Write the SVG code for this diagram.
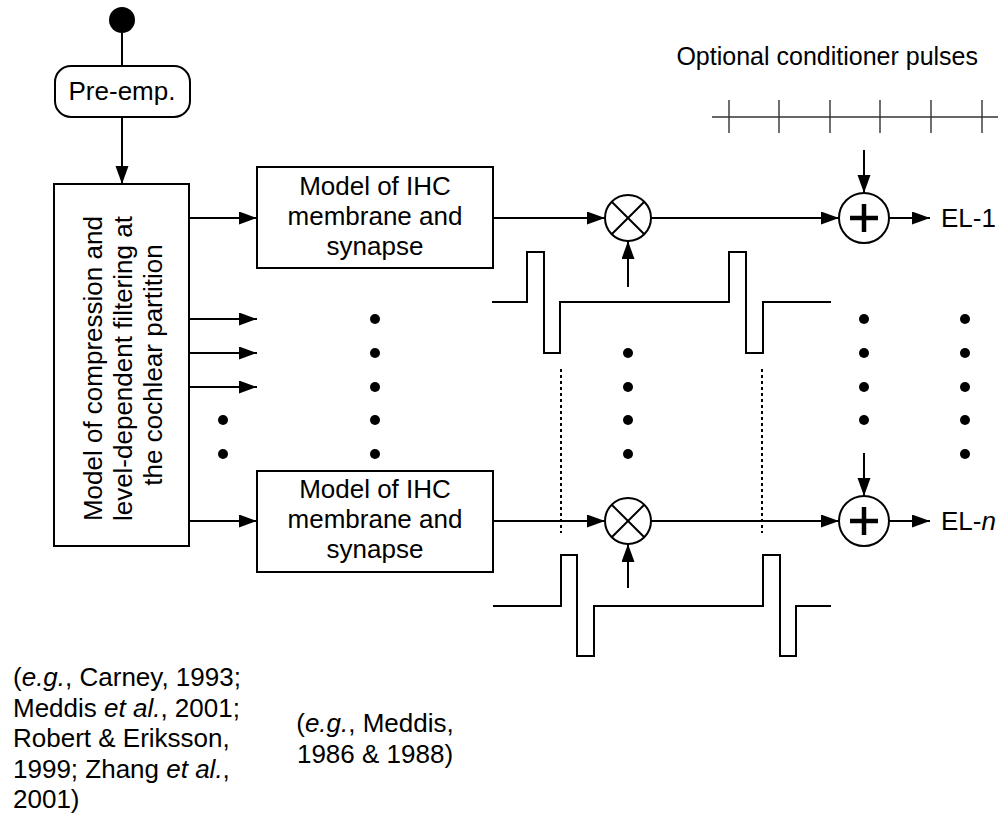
<svg xmlns="http://www.w3.org/2000/svg" width="998" height="816" viewBox="0 0 998 816">
<style>
text{font-family:"Liberation Sans",Arial,sans-serif;font-size:26px;fill:#000}
.box{fill:#fff;stroke:#000;stroke-width:2}
.ln{fill:none;stroke:#000;stroke-width:2}
.ar{fill:none;stroke:#000;stroke-width:2;marker-end:url(#ah)}
.dot{fill:#000}
.dash{fill:none;stroke:#000;stroke-width:2;stroke-dasharray:3 3}
.plus{stroke:#000;stroke-width:4.5}
.tick{stroke:#333;stroke-width:1.4}
</style>
<defs>
<marker id="ah" markerUnits="userSpaceOnUse" markerWidth="20" markerHeight="14" refX="18" refY="6.5" orient="auto">
<path d="M0,0 L18,6.5 L0,13 z" fill="#000"/>
</marker>
</defs>
<rect width="998" height="816" fill="#fff"/>

<g id="start"><circle cx="122" cy="20" r="13" fill="#000"/></g>

<g id="preemp">
<rect class="box" x="55" y="66" width="135" height="51" rx="16"/>
<text x="122" y="100" text-anchor="middle">Pre-emp.</text>
</g>

<g id="cochlea">
<rect class="box" x="54" y="184" width="135" height="362"/>
<text transform="translate(102,365) rotate(-90)" text-anchor="middle">
<tspan x="0" y="0">Model of compression and</tspan>
<tspan x="0" dy="30">level-dependent filtering at</tspan>
<tspan x="0" dy="30">the cochlear partition</tspan>
</text>
</g>

<g id="ihc1">
<rect class="box" x="257" y="167" width="236" height="101"/>
<text text-anchor="middle"><tspan x="375" y="195">Model of IHC</tspan><tspan x="375" y="225">membrane and</tspan><tspan x="375" y="255">synapse</tspan></text>
</g>

<g id="ihc2">
<rect class="box" x="257" y="471" width="236" height="101"/>
<text text-anchor="middle"><tspan x="375" y="498">Model of IHC</tspan><tspan x="375" y="528">membrane and</tspan><tspan x="375" y="558">synapse</tspan></text>
</g>

<g id="mult1">
<circle class="box" cx="628" cy="218" r="23"/>
<path class="ln" d="M611.7,201.7 L644.3,234.3 M644.3,201.7 L611.7,234.3"/>
</g>
<g id="mult2">
<circle class="box" cx="628" cy="521" r="23"/>
<path class="ln" d="M611.7,504.7 L644.3,537.3 M644.3,504.7 L611.7,537.3"/>
</g>

<g id="add1">
<circle class="box" cx="864" cy="218" r="25"/>
<path class="plus" d="M850,218 H878 M864,204 V232"/>
</g>
<g id="add2">
<circle class="box" cx="864" cy="521" r="25"/>
<path class="plus" d="M850,521 H878 M864,507 V535"/>
</g>

<g id="out1"><text x="941" y="227">EL-1</text></g>
<g id="outn"><text x="941" y="530">EL-<tspan font-style="italic">n</tspan></text></g>

<g id="conditioner">
<text x="978" y="65" text-anchor="end" style="font-size:25px">Optional conditioner pulses</text>
<line x1="712" y1="117" x2="998" y2="117" stroke="#333" stroke-width="1.4"/>
<path class="tick" d="M729,100 V133 M779,100 V133 M830,100 V133 M880,100 V133 M931,100 V133 M982,100 V133"/>
</g>

<g id="pulses1"><path class="ln" d="M492,302 H527 V252 H544 V353 H560 V302 H729 V252 H746 V353 H763 V302 H831"/></g>
<g id="pulses2"><path class="ln" d="M493,606 H561 V555 H577 V656 H594 V606 H763 V555 H780 V656 H796 V606 H831"/></g>

<g id="ellipsis">
<circle class="dot" cx="223" cy="420" r="5"/><circle class="dot" cx="223" cy="454" r="5"/>
<circle class="dot" cx="375" cy="319" r="5"/><circle class="dot" cx="375" cy="353" r="5"/><circle class="dot" cx="375" cy="387" r="5"/><circle class="dot" cx="375" cy="420" r="5"/><circle class="dot" cx="375" cy="454" r="5"/>
<circle class="dot" cx="628" cy="353" r="5"/><circle class="dot" cx="628" cy="387" r="5"/><circle class="dot" cx="628" cy="420" r="5"/><circle class="dot" cx="628" cy="454" r="5"/>
<circle class="dot" cx="864" cy="319" r="5"/><circle class="dot" cx="864" cy="353" r="5"/><circle class="dot" cx="864" cy="387" r="5"/><circle class="dot" cx="864" cy="420" r="5"/>
<circle class="dot" cx="965" cy="319" r="5"/><circle class="dot" cx="965" cy="353" r="5"/><circle class="dot" cx="965" cy="387" r="5"/><circle class="dot" cx="965" cy="420" r="5"/><circle class="dot" cx="965" cy="454" r="5"/>
<path class="dash" d="M561,369 V533 M762,369 V533"/>
</g>

<g id="connectors">
<path class="ln" d="M122,33 V66"/>
<path class="ar" d="M122,117 V184"/>
<path class="ar" d="M189,218 H257"/>
<path class="ar" d="M189,319 H257"/>
<path class="ar" d="M189,353 H257"/>
<path class="ar" d="M189,387 H257"/>
<path class="ar" d="M189,521 H257"/>
<path class="ar" d="M493,218 H605"/>
<path class="ar" d="M493,521 H605"/>
<path class="ar" d="M651,218 H839"/>
<path class="ar" d="M651,521 H839"/>
<path class="ar" d="M628,287 V241"/>
<path class="ar" d="M628,588 V544"/>
<path class="ar" d="M864,150 V193"/>
<path class="ar" d="M864,453 V496"/>
<path class="ar" d="M889,218 H930"/>
<path class="ar" d="M889,521 H930"/>
</g>

<g id="refs">
<text x="13"><tspan x="13" y="686">(<tspan font-style="italic">e.g.</tspan>, Carney, 1993;</tspan><tspan x="13" y="717">Meddis <tspan font-style="italic">et al.</tspan>, 2001;</tspan><tspan x="13" y="747">Robert &amp; Eriksson,</tspan><tspan x="13" y="778">1999; Zhang <tspan font-style="italic">et al.</tspan>,</tspan><tspan x="13" y="808">2001)</tspan></text>
<text text-anchor="middle"><tspan x="375" y="732">(<tspan font-style="italic">e.g.</tspan>, Meddis,</tspan><tspan x="375" y="763">1986 &amp; 1988)</tspan></text>
</g>
</svg>
